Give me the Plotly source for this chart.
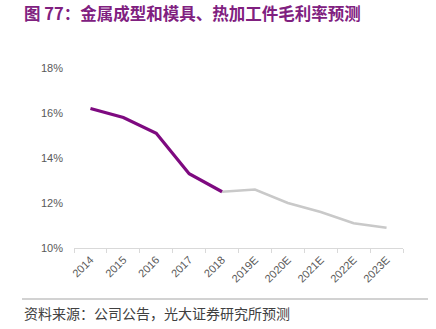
import plotly.graph_objects as go

years = ["2014", "2015", "2016", "2017", "2018", "2019E", "2020E", "2021E", "2022E", "2023E"]
actual_years = years[:5]
actual_margin = [0.162, 0.158, 0.151, 0.133, 0.125]
forecast_years = years[4:]
forecast_margin = [0.125, 0.126, 0.120, 0.116, 0.111, 0.109]
y_ticks = [0.10, 0.12, 0.14, 0.16, 0.18]
title_text = "图 77：金属成型和模具、热加工件毛利率预测"
source_text = "资料来源：公司公告，光大证券研究所预测"

W, H = 436, 329
L, R, T, B = 74, 33, 68, 81

fig = go.Figure()
fig.add_trace(go.Scatter(x=forecast_years, y=forecast_margin, mode="lines",
                         line=dict(color="#C9C9C9", width=2.6), hoverinfo="skip"))
fig.add_trace(go.Scatter(x=actual_years, y=actual_margin, mode="lines",
                         line=dict(color="#7E0A80", width=3.2), hoverinfo="skip"))

fig.update_layout(
    width=W, height=H,
    margin=dict(l=L, r=R, t=T, b=B),
    paper_bgcolor="white", plot_bgcolor="white",
    showlegend=False,
    font=dict(family="Noto Sans CJK SC", color="#595959"),
    xaxis=dict(type="category", categoryorder="array", categoryarray=years,
               range=[-0.5, len(years) - 0.5],
               tickson="boundaries", ticks="outside", ticklen=4, tickcolor="#D9D9D9",
               showline=True, linecolor="#D9D9D9", linewidth=1.3,
               showgrid=False, zeroline=False, tickangle=-45,
               tickfont=dict(family="Liberation Sans", size=11, color="#595959")),
    yaxis=dict(range=[0.10, 0.18], tickvals=y_ticks, tickformat=".0%",
               showgrid=False, zeroline=False, showline=False, ticks="",
               ticklabelstandoff=10,
               tickfont=dict(family="Liberation Sans", size=11, color="#595959")),
    annotations=[
        dict(text="<b>" + title_text + "</b>", xref="paper", yref="paper",
             x=-(L - 22) / (W - L - R), y=1 + (T - 13) / (H - T - B),
             xanchor="left", yanchor="middle", showarrow=False,
             font=dict(family="Noto Sans CJK SC", size=16.5, color="#80207F")),
        dict(text=source_text, xref="paper", yref="paper",
             x=-(L - 22) / (W - L - R), y=-(313 - (H - B)) / (H - T - B),
             xanchor="left", yanchor="middle", showarrow=False,
             font=dict(family="Noto Sans CJK SC", size=14, color="#404040")),
    ],
    shapes=[dict(type="line", xref="paper", yref="paper",
                 x0=-(L - 22) / (W - L - R), x1=1 + (428 - (W - R)) / (W - L - R),
                 y0=-(299 - (H - B)) / (H - T - B), y1=-(299 - (H - B)) / (H - T - B),
                 line=dict(color="#A6A6A6", width=1.2))],
)

fig.write_html("out.html")
